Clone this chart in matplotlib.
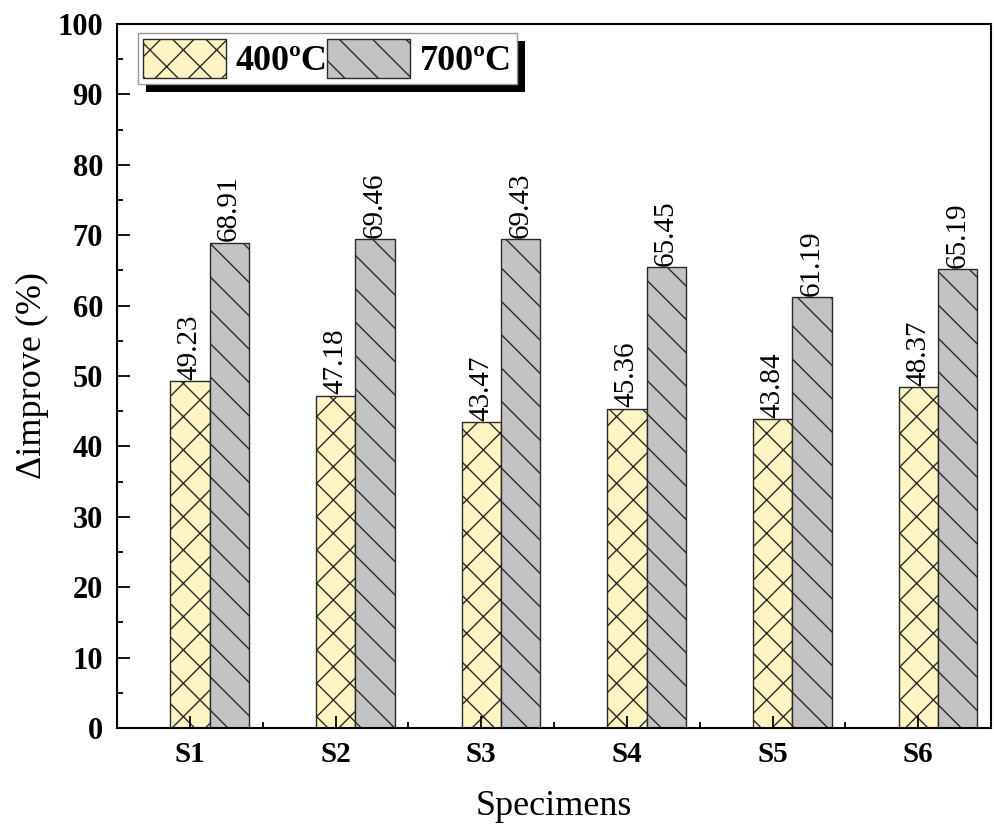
import matplotlib.pyplot as plt
import numpy as np
from matplotlib.patches import Rectangle
from matplotlib.ticker import MultipleLocator, FixedLocator

plt.rcParams['font.family'] = ['Liberation Serif', 'DejaVu Serif']
plt.rcParams['hatch.linewidth'] = 1.0

# Data
specimens = ["S1", "S2", "S3", "S4", "S5", "S6"]
improve_400 = [49.23, 47.18, 43.47, 45.36, 43.84, 48.37]
improve_700 = [68.91, 69.46, 69.43, 65.45, 61.19, 65.19]

fig = plt.figure(figsize=(9.95, 8.24), dpi=100)
ax = fig.add_axes([0.1176, 0.1165, 0.8784, 0.8544])

x = np.arange(1, len(specimens) + 1)
w = 0.27

ax.bar(x, improve_400, w, color='#FFF5C2', edgecolor='#2a2a2a',
       hatch='x', linewidth=1.0, label='400ºC')
ax.bar(x + w, improve_700, w, color='#C3C3C3', edgecolor='#2a2a2a',
       hatch='\\', linewidth=1.0, label='700ºC')

# value labels
for xi, v in zip(x, improve_400):
    ax.text(xi, v + 0.2, f"{v:.2f}", rotation=90, ha='center', va='bottom', fontsize=21)
for xi, v in zip(x + w, improve_700):
    ax.text(xi, v + 0.2, f"{v:.2f}", rotation=90, ha='center', va='bottom', fontsize=21)

ax.set_xlim(0.5, 6.5)
ax.set_ylim(0, 100)
ax.set_xticks(x)
ax.set_xticklabels(specimens, fontsize=21, fontweight='bold')
ax.xaxis.set_minor_locator(FixedLocator(x[:-1] + 0.5))
ax.yaxis.set_major_locator(MultipleLocator(10))
ax.yaxis.set_minor_locator(MultipleLocator(5))
for lab in ax.get_yticklabels():
    lab.set_fontsize(22)
    lab.set_fontweight('bold')

ax.tick_params(which='major', direction='in', length=9, width=1.3, pad=10)
ax.tick_params(which='minor', direction='in', length=4.5, width=1.3)
ax.tick_params(axis='x', which='major', pad=9)
for s in ax.spines.values():
    s.set_linewidth(1.5)

ax.set_xlabel("Specimens", fontsize=26, labelpad=16)
ax.set_ylabel("Δimprove (%)", fontsize=26, labelpad=6)

leg = ax.legend(loc='upper left', bbox_to_anchor=(0.024, 0.987), borderaxespad=0,
                ncol=2, prop={'size': 26, 'weight': 'bold'},
                handlelength=2.3, handleheight=1.3, handletextpad=0.25,
                columnspacing=0.0, borderpad=0.15, fancybox=False,
                edgecolor='#999999', framealpha=1)
leg.get_frame().set_linewidth(1.0)

# black drop shadow behind the legend
fig.canvas.draw()
bb = leg.get_window_extent()
inv = ax.transAxes.inverted()
(x0, y0) = inv.transform((bb.x0 + 8, bb.y0 - 8))
(x1, y1) = inv.transform((bb.x1 + 8, bb.y1 - 8))
ax.add_patch(Rectangle((x0, y0), x1 - x0, y1 - y0, transform=ax.transAxes,
                       facecolor='black', edgecolor='none', zorder=4.9, clip_on=False))

fig.savefig("out.png", dpi=100)
